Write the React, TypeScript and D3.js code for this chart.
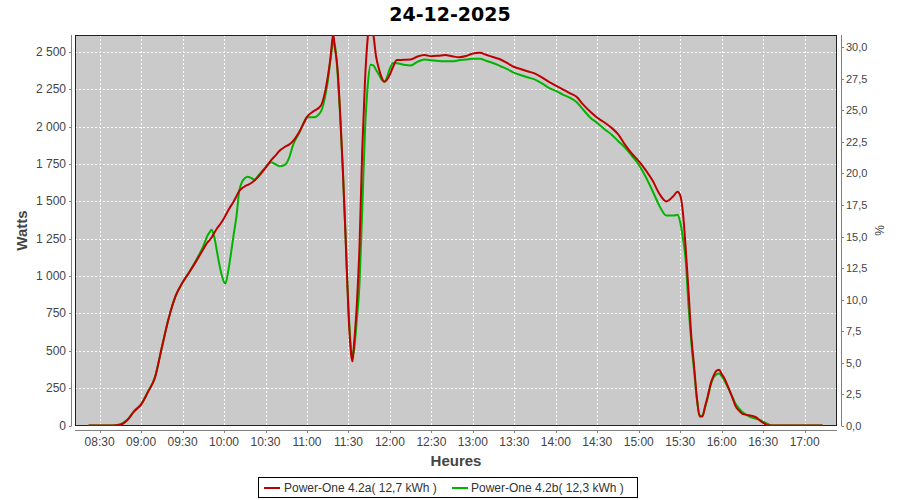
import React from 'react';
import * as d3 from 'd3';

const chartTitle = '24-12-2025';
const xAxisLabel = 'Heures';
const yAxisLabel = 'Watts';
const y2AxisLabel = '%';
const seriesNames = ['Power-One 4.2a( 12,7 kWh )', 'Power-One 4.2b( 12,3 kWh )'];
const seriesColors = ['#BE0000', '#00B400'];

const times = [
  '08:22', '08:30', '08:40', '08:45', '08:50', '08:55', '09:00', '09:05', '09:10', '09:15',
  '09:20', '09:25', '09:30', '09:35', '09:40', '09:45', '09:48', '09:50', '09:51', '09:53',
  '09:55', '09:57', '10:00', '10:01', '10:03', '10:05', '10:07', '10:09', '10:11', '10:13',
  '10:15', '10:17', '10:20', '10:22', '10:25', '10:30', '10:34', '10:37', '10:40', '10:44',
  '10:47', '10:50', '10:55', '10:58', '11:00', '11:05', '11:10', '11:13', '11:15', '11:17',
  '11:19', '11:20', '11:22', '11:24', '11:26', '11:28', '11:30', '11:32', '11:33', '11:34',
  '11:36', '11:38', '11:40', '11:42', '11:44', '11:46', '11:48', '11:50', '11:52', '11:54',
  '11:56', '12:00', '12:02', '12:05', '12:10', '12:15', '12:20', '12:25', '12:30', '12:35',
  '12:40', '12:45', '12:50', '12:55', '13:00', '13:05', '13:10', '13:15', '13:20', '13:25',
  '13:30', '13:35', '13:40', '13:45', '13:50', '13:55', '14:00', '14:05', '14:10', '14:15',
  '14:20', '14:25', '14:30', '14:35', '14:40', '14:45', '14:50', '14:55', '15:00', '15:05',
  '15:10', '15:15', '15:20', '15:25', '15:28', '15:30', '15:32', '15:34', '15:36', '15:38',
  '15:40', '15:42', '15:44', '15:46', '15:48', '15:50', '15:52', '15:54', '15:56', '15:58',
  '16:00', '16:02', '16:05', '16:08', '16:10', '16:13', '16:15', '16:20', '16:25', '16:28',
  '16:30', '16:33', '16:36', '17:13',
];

const wattsA = [
  0, 0, 0, 5, 35, 95, 140, 225, 320, 522,
  718, 867, 957, 1028, 1102, 1180, 1225, 1245, 1258, 1290,
  1320, 1345, 1387, 1405, 1440, 1470, 1500, 1535, 1570, 1588,
  1600, 1610, 1625, 1640, 1668, 1725, 1775, 1805, 1838, 1865,
  1880, 1905, 1975, 2030, 2065, 2105, 2140, 2230, 2330, 2460,
  2620, 2540, 2400, 2090, 1700, 1240, 760, 470, 430, 540,
  800, 1200, 1850, 2313, 2600, 2720, 2620, 2470, 2390, 2330,
  2302, 2350, 2395, 2446, 2448, 2450, 2470, 2480, 2472, 2475,
  2480, 2472, 2465, 2473, 2490, 2495, 2480, 2465, 2450, 2425,
  2400, 2385, 2370, 2355, 2330, 2300, 2275, 2250, 2225, 2200,
  2146, 2100, 2060, 2030, 1995, 1950, 1880, 1820, 1770, 1710,
  1640, 1550, 1500, 1535, 1565, 1540, 1420, 1180, 900, 600,
  400, 190, 60, 60, 130, 200, 280, 330, 365, 374,
  345, 315, 250, 180, 130, 95, 78, 68, 55, 30,
  18, 2, 0, 0,
];

const wattsB = [
  0, 0, 0, 8, 38, 98, 142, 228, 322, 522,
  718, 867, 957, 1030, 1110, 1200, 1270, 1300, 1310, 1260,
  1160, 1060, 960, 950, 1030, 1150, 1280, 1400, 1570, 1630,
  1655, 1665, 1655, 1645, 1675, 1728, 1762, 1750, 1735, 1745,
  1790, 1880, 1970, 2035, 2063, 2063, 2100, 2195, 2300, 2450,
  2560, 2560, 2370, 2070, 1700, 1250, 790, 510, 470, 500,
  700, 950, 1450, 1980, 2280, 2415, 2410, 2380, 2350, 2315,
  2300, 2390, 2425, 2425, 2415, 2410, 2435, 2450, 2445, 2440,
  2438, 2438, 2445, 2450, 2455, 2455, 2440, 2425, 2405, 2385,
  2360, 2345, 2330, 2315, 2290, 2260, 2240, 2215, 2195, 2165,
  2112, 2060, 2025, 1985, 1950, 1905, 1860, 1805, 1745, 1665,
  1570, 1470, 1405, 1405, 1410, 1360, 1250, 1100, 800, 560,
  370, 180, 70, 65, 120, 190, 270, 320, 340, 348,
  330, 300, 245, 185, 145, 110, 90, 60, 45, 35,
  25, 12, 0, 0,
];

const wattTicks = [0, 250, 500, 750, 1000, 1250, 1500, 1750, 2000, 2250, 2500];
const pctTicks = [0, 2.5, 5, 7.5, 10, 12.5, 15, 17.5, 20, 22.5, 25, 27.5, 30];
const timeTicks = [
  '08:30', '09:00', '09:30', '10:00', '10:30', '11:00', '11:30', '12:00', '12:30',
  '13:00', '13:30', '14:00', '14:30', '15:00', '15:30', '16:00', '16:30', '17:00',
];

const toMin = (s: string) => {
  const [h, m] = s.split(':').map(Number);
  return h * 60 + m;
};

const locale = d3.formatLocale({ decimal: ',', thousands: '\u00a0', grouping: [3], currency: ['', ''] });
const fmtW = locale.format(',d');
const fmtP = locale.format('.1f');

export default function App() {
  const L = 75, R = 837, T = 35, B = 426;
  const x = d3.scaleLinear().domain([492.2, 1043.4]).range([L, R]);
  const y = d3.scaleLinear().domain([0, 2614]).range([B - 0.5, T]);
  const y2 = d3.scaleLinear().domain([0, 30.95]).range([B, T]);
  const line = d3
    .line<[number, number]>()
    .x((d) => x(d[0]))
    .y((d) => y(d[1]))
    .curve(d3.curveMonotoneX);

  const tMin = times.map(toMin);
  const ptsA = tMin.map((t, i) => [t, wattsA[i]] as [number, number]);
  const ptsB = tMin.map((t, i) => [t, wattsB[i]] as [number, number]);

  const font = '"Liberation Sans", Arial, sans-serif';
  const axisColor = '#808080';
  const labelColor = '#444444';

  return (
    <svg
      width={900}
      height={500}
      style={{ position: 'absolute', left: 0, top: 0, background: '#fff' }}
      fontFamily={font}
    >
      <rect x={0} y={0} width={900} height={500} fill="#ffffff" />
      <text
        x={450}
        y={21}
        textAnchor="middle"
        fontFamily='"DejaVu Sans", sans-serif'
        fontWeight="bold"
        fontSize={19}
        fill="#000"
      >
        {chartTitle}
      </text>

      <defs>
        <clipPath id="plotClip">
          <rect x={L} y={T} width={R - L} height={B - T} />
        </clipPath>
      </defs>

      <rect x={L} y={T} width={R - L} height={B - T} fill="#CACACA" />

      {/* grid */}
      {timeTicks.map((t) => (
        <line
          key={'gx' + t}
          x1={Math.round(x(toMin(t))) + 0.5}
          x2={Math.round(x(toMin(t))) + 0.5}
          y1={T}
          y2={B}
          stroke="#ffffff"
          strokeWidth={1}
          strokeDasharray="2,2"
        />
      ))}
      {wattTicks.map((v) => (
        <line
          key={'gy' + v}
          x1={L}
          x2={R}
          y1={Math.round(y(v)) + 0.5}
          y2={Math.round(y(v)) + 0.5}
          stroke="#ffffff"
          strokeWidth={1}
          strokeDasharray="2,2"
        />
      ))}

      <rect x={L + 0.5} y={T + 0.5} width={R - L - 1} height={B - T - 1} fill="none" stroke="#222" strokeWidth={1} />

      <g clipPath="url(#plotClip)">
        <path d={line(ptsB) || ''} fill="none" stroke={seriesColors[1]} strokeWidth={2} strokeLinejoin="round" />
        <path d={line(ptsA) || ''} fill="none" stroke={seriesColors[0]} strokeWidth={2} strokeLinejoin="round" />
      </g>

      {/* left axis */}
      <line x1={71.5} x2={71.5} y1={T} y2={B} stroke={axisColor} />
      {wattTicks.map((v) => (
        <g key={'ly' + v}>
          <line x1={69} x2={71.5} y1={Math.round(y(v)) + 0.5} y2={Math.round(y(v)) + 0.5} stroke={axisColor} />
          <text x={66} y={y(v) + 4} textAnchor="end" fontSize={12} fill={labelColor}>
            {fmtW(v)}
          </text>
        </g>
      ))}
      <text
        transform={`translate(27,${(T + B) / 2}) rotate(-90)`}
        textAnchor="middle"
        fontWeight="bold"
        fontSize={15}
        fill={labelColor}
      >
        {yAxisLabel}
      </text>

      {/* right axis */}
      <line x1={841.5} x2={841.5} y1={T} y2={B} stroke={axisColor} />
      {pctTicks.map((v) => (
        <g key={'ry' + v}>
          <line x1={841.5} x2={844} y1={Math.round(y2(v)) + 0.5} y2={Math.round(y2(v)) + 0.5} stroke={axisColor} />
          <text x={846} y={y2(v) + 4} textAnchor="start" fontSize={11} fill={labelColor}>
            {fmtP(v)}
          </text>
        </g>
      ))}
      <text
        transform={`translate(884,${(T + B) / 2}) rotate(-90)`}
        textAnchor="middle"
        fontSize={12}
        fill={labelColor}
      >
        {y2AxisLabel}
      </text>

      {/* x axis */}
      <line x1={L} x2={R} y1={430.5} y2={430.5} stroke={axisColor} />
      {timeTicks.map((t) => (
        <g key={'xt' + t}>
          <line
            x1={Math.round(x(toMin(t))) + 0.5}
            x2={Math.round(x(toMin(t))) + 0.5}
            y1={430.5}
            y2={433}
            stroke={axisColor}
          />
          <text x={x(toMin(t))} y={446} textAnchor="middle" fontSize={12} fill={labelColor}>
            {t}
          </text>
        </g>
      ))}
      <text x={(L + R) / 2} y={466} textAnchor="middle" fontWeight="bold" fontSize={15} fill={labelColor}>
        {xAxisLabel}
      </text>

      {/* legend */}
      <rect x={258.5} y={477.5} width={379} height={20} fill="#fff" stroke="#000" />
      <line x1={264} x2={280} y1={488} y2={488} stroke={seriesColors[0]} strokeWidth={2} />
      <text x={284} y={492} fontSize={12} fill="#333">
        {seriesNames[0]}
      </text>
      <line x1={452} x2={468} y1={488} y2={488} stroke={seriesColors[1]} strokeWidth={2} />
      <text x={471} y={492} fontSize={12} fill="#333">
        {seriesNames[1]}
      </text>
    </svg>
  );
}
